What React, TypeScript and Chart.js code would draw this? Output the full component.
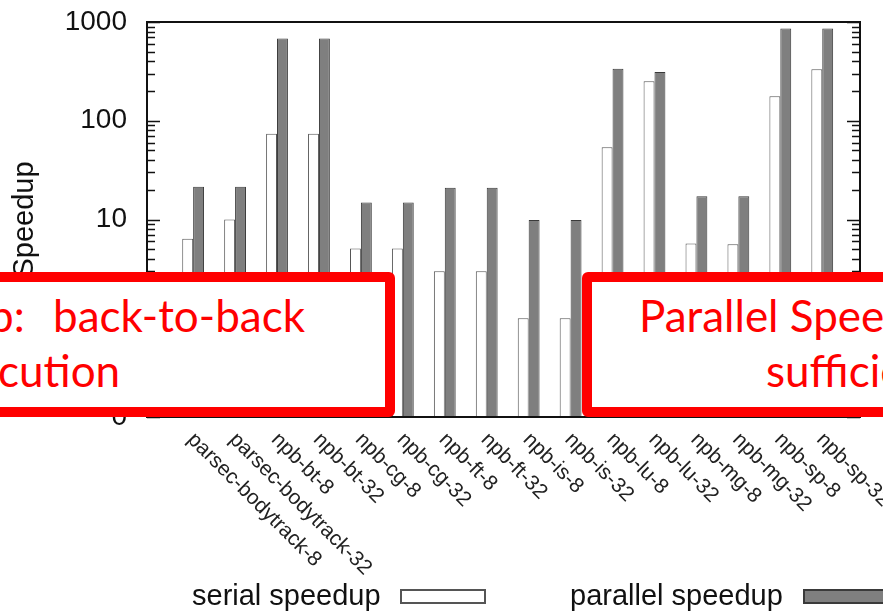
import React, { useEffect, useRef } from "react";
import { Chart, registerables } from "chart.js";

Chart.register(...registerables);

const categories = [
  "parsec-bodytrack-8",
  "parsec-bodytrack-32",
  "npb-bt-8",
  "npb-bt-32",
  "npb-cg-8",
  "npb-cg-32",
  "npb-ft-8",
  "npb-ft-32",
  "npb-is-8",
  "npb-is-32",
  "npb-lu-8",
  "npb-lu-32",
  "npb-mg-8",
  "npb-mg-32",
  "npb-sp-8",
  "npb-sp-32",
];
const serialSpeedup = [6.4, 10, 74, 74, 5.1, 5.1, 3.0, 3.0, 1.0, 1.0, 54, 251, 5.7, 5.6, 177, 332];
const parallelSpeedup = [21.4, 21.4, 679, 679, 14.9, 14.9, 21, 21, 9.9, 9.9, 337, 312, 17.2, 17.2, 857, 857];
const seriesNames = ["serial speedup", "parallel speedup"];
const yTickValues = [0.1, 1, 10, 100, 1000];
const yTickLabels = ["0", "1", "10", "100", "1000"];
const yTitle = "Speedup";
const noteLeftLine1a = "p:";
const noteLeftLine1b = "back-to-back";
const noteLeftLine2 = "cution";
const noteRightLine1 = "Parallel Spee";
const noteRightLine2 = "sufficie";

const W = 883;
const H = 613;

const framePlugin = {
  id: "gnuplotFrame",
  afterDatasetsDraw(chart: any) {
    const { ctx, chartArea, scales } = chart;
    const { left, right, top, bottom } = chartArea;
    const y = scales.y;
    const x = scales.x;
    ctx.save();
    // y tick marks (inward, mirrored)
    ctx.strokeStyle = "#111";
    ctx.lineWidth = 1.5;
    for (let e = -1; e <= 3; e++) {
      for (let m = 1; m <= 9; m++) {
        const v = m * Math.pow(10, e);
        if (v > 1000.0001) continue;
        const py = Math.round(y.getPixelForValue(v)) + 0.5;
        const len = m === 1 ? 13 : 8;
        ctx.beginPath();
        ctx.moveTo(left, py);
        ctx.lineTo(left + len, py);
        ctx.moveTo(right, py);
        ctx.lineTo(right - len, py);
        ctx.stroke();
      }
    }
    // frame
    ctx.lineWidth = 2;
    ctx.strokeStyle = "#111";
    ctx.strokeRect(left, top, right - left, bottom - top);

    // x labels rotated 45deg clockwise, anchored at start
    ctx.fillStyle = "#222";
    ctx.font = '21px "Liberation Sans", Arial, sans-serif';
    ctx.textAlign = "left";
    ctx.textBaseline = "top";
    categories.forEach((c, i) => {
      const px = x.getPixelForValue(i);
      ctx.save();
      ctx.translate(px + 5, bottom + 12);
      ctx.rotate(Math.PI / 4);
      ctx.fillText(c, 0, 0);
      ctx.restore();
    });

    // legend (text then sample box)
    ctx.font = '29px "Liberation Sans", Arial, sans-serif';
    ctx.textBaseline = "alphabetic";
    const ds = chart.data.datasets;
    const legendItems = [
      { tx: 192, bx: 401 },
      { tx: 570, bx: 804 },
    ];
    legendItems.forEach((li, i) => {
      ctx.fillStyle = "#111";
      ctx.fillText(ds[i].label, li.tx, 605);
      ctx.fillStyle = ds[i].backgroundColor;
      ctx.fillRect(li.bx, 590, 84, 13);
      ctx.strokeStyle = ds[i].borderColor;
      ctx.lineWidth = 2;
      ctx.strokeRect(li.bx, 590, 84, 13);
    });
    ctx.restore();
  },
};

export default function App() {
  const canvasRef = useRef<HTMLCanvasElement | null>(null);

  useEffect(() => {
    const canvas = canvasRef.current;
    if (!canvas) return;
    const chart = new Chart(canvas, {
      type: "bar",
      data: {
        datasets: [
          {
            label: seriesNames[0],
            data: serialSpeedup.map((v, i) => ({ x: i, y: v })),
            backgroundColor: "#ffffff",
            borderColor: "#555555",
            borderWidth: 1,
            categoryPercentage: 0.52,
            barPercentage: 1,
          },
          {
            label: seriesNames[1],
            data: parallelSpeedup.map((v, i) => ({ x: i, y: v })),
            backgroundColor: "#7f7f7f",
            borderColor: "#3a3a3a",
            borderWidth: 1,
            categoryPercentage: 0.52,
            barPercentage: 1,
          },
        ],
      },
      options: {
        animation: false,
        responsive: false,
        maintainAspectRatio: false,
        devicePixelRatio: 1,
        layout: { padding: { left: 0, right: 23, top: 22, bottom: 196 } },
        plugins: {
          legend: { display: false },
          tooltip: { enabled: false },
        },
        scales: {
          x: {
            type: "linear",
            min: -1.1,
            max: 15.9,
            offset: false,
            display: false,
          },
          y: {
            type: "logarithmic",
            min: 0.1,
            max: 1000,
            grid: { display: false, drawTicks: false },
            border: { display: false },
            afterBuildTicks: (scale: any) => {
              scale.ticks = yTickValues.map((v) => ({ value: v }));
            },
            afterFit: (scale: any) => {
              scale.width = 147;
              scale.paddingTop = 0;
              scale.paddingBottom = 0;
            },
            ticks: {
              padding: 20,
              color: "#111",
              font: { family: '"Liberation Sans", Arial, sans-serif', size: 28 },
              autoSkip: false,
              callback: (value: any) => {
                const idx = yTickValues.findIndex((t) => Math.abs(t - Number(value)) < 1e-9);
                return idx >= 0 ? yTickLabels[idx] : "";
              },
            },
            title: {
              display: true,
              text: yTitle,
              color: "#111",
              font: { family: '"Liberation Sans", Arial, sans-serif', size: 29 },
              padding: { top: 8, bottom: 0 },
            },
          },
        },
      },
      plugins: [framePlugin],
    } as any);
    return () => chart.destroy();
  }, []);

  const noteFont: React.CSSProperties = {
    position: "absolute",
    color: "#ff0000",
    fontFamily: 'Lato, "Open Sans", sans-serif',
    fontSize: 44,
    lineHeight: 1,
    whiteSpace: "pre",
    margin: 0,
  };

  return (
    <div
      style={{
        position: "fixed",
        left: 0,
        top: 0,
        width: W,
        height: H,
        overflow: "hidden",
        background: "#ffffff",
      }}
    >
      <canvas ref={canvasRef} width={W} height={H} style={{ width: W, height: H, display: "block" }} />
      <div
        style={{
          position: "absolute",
          left: -20,
          top: 272,
          width: 415,
          height: 145,
          border: "10px solid #ff0000",
          borderRadius: 6,
          background: "#ffffff",
          boxSizing: "border-box",
        }}
      />
      <div
        style={{
          position: "absolute",
          left: 582,
          top: 272,
          width: 340,
          height: 145,
          border: "10px solid #ff0000",
          borderRadius: 6,
          background: "#ffffff",
          boxSizing: "border-box",
        }}
      />
      <span style={{ ...noteFont, left: -11, top: 293 }}>{noteLeftLine1a}</span>
      <span style={{ ...noteFont, left: 53, top: 293 }}>{noteLeftLine1b}</span>
      <span style={{ ...noteFont, left: -2, top: 348 }}>{noteLeftLine2}</span>
      <span style={{ ...noteFont, left: 639, top: 293 }}>{noteRightLine1}</span>
      <span style={{ ...noteFont, left: 766, top: 348 }}>{noteRightLine2}</span>
    </div>
  );
}
